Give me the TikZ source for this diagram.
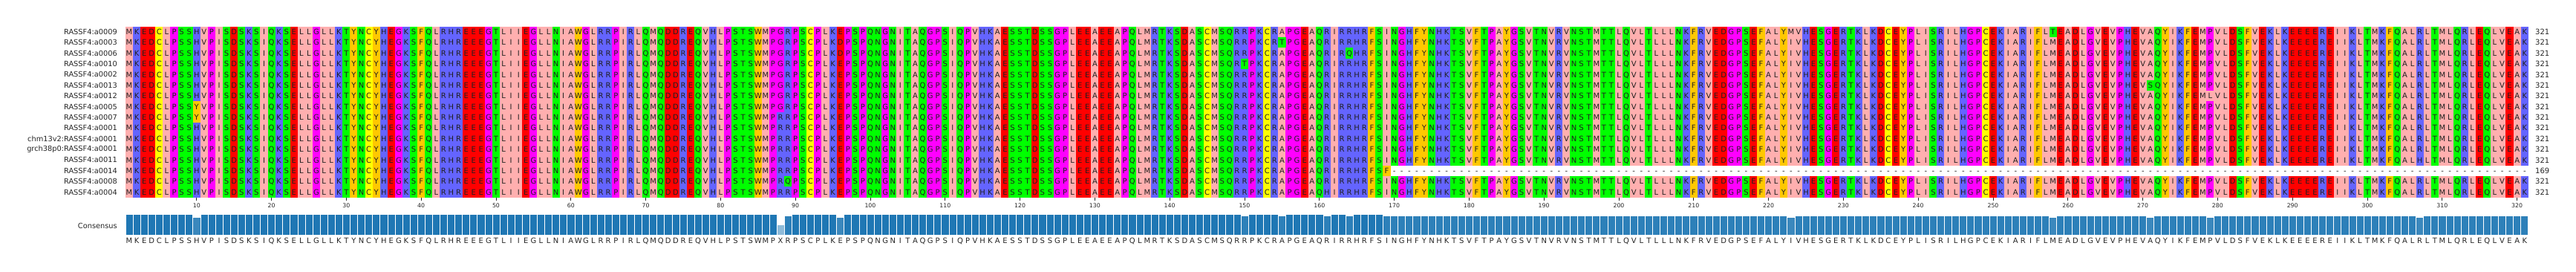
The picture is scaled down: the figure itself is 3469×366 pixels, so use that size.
\documentclass[tikz,border=0pt]{standalone}
\usepackage{fontspec}
\setmainfont{DejaVu Sans}
\definecolor{zpink}{HTML}{FFAFAF}
\definecolor{zorange}{HTML}{FFC800}
\definecolor{zblue}{HTML}{6464FF}
\definecolor{zred}{HTML}{FF0000}
\definecolor{zgreen}{HTML}{00FF00}
\definecolor{zmag}{HTML}{FF00FF}
\definecolor{zyel}{HTML}{FFFF00}
\colorlet{zA}{zpink}\colorlet{zI}{zpink}\colorlet{zL}{zpink}\colorlet{zM}{zpink}\colorlet{zV}{zpink}
\colorlet{zF}{zorange}\colorlet{zW}{zorange}\colorlet{zY}{zorange}
\colorlet{zH}{zblue}\colorlet{zK}{zblue}\colorlet{zR}{zblue}
\colorlet{zD}{zred}\colorlet{zE}{zred}
\colorlet{zN}{zgreen}\colorlet{zQ}{zgreen}\colorlet{zS}{zgreen}\colorlet{zT}{zgreen}
\colorlet{zG}{zmag}\colorlet{zP}{zmag}
\colorlet{zC}{zyel}
\colorlet{zX}{white}
\definecolor{cbar}{HTML}{1F77B4}
\definecolor{txtc}{HTML}{262626}
\colorlet{resc}{black!88}

\newcount\rowno \newcount\colno
\def\seq{MKEDCLPSSH VPISDSKSIQ KSELLGLLKT YNCYHEGKSF QLRHREEEGT LIIEGLLNIA WGLRRPIRLQ MQDDREQVHL PSTSWMPXRP SCPLKEPSPQ NGNITAQGPS IQPVHKAESS TDSSGPLEEA EEAPQLMRTK SDASCMSQRR PKCRAPGEAQ RIRRHRFSIN GHFYNHKTSV FTPAYGSVTN VRVNSTMTTL QVLTLLLNKF RVEDGPSEFA LYIVHESGER TKLKDCEYPL ISRILHGPCE KIARIFLMEA DLGVEVPHEV AQYIKFEMPV LDSFVEKLKE EEEREIIKLT MKFQALRLTM LQRLEQLVEA K}
\def\setv#1#2#3{\expandafter\xdef\csname v#1-#2\endcsname{#3}}
\def\setp#1#2{\expandafter\gdef\csname p#1\endcsname{#2}}
% variants: row/column/residue
\def\varlist{1/223/M,1/258/T,2/96/D,2/155/T,3/96/D,3/164/Q,4/150/T,6/271/S,7/279/L,8/10/Y,9/10/Y,13/307/H,14/169/F,15/89/Q,16/161/H,1/88/G,2/88/G,3/88/G,4/88/G,5/88/G,6/88/G,7/88/G,8/88/G,9/88/R,10/88/R,11/88/R,12/88/R,13/88/R,14/88/R,15/88/R,16/88/R}
\foreach \vr/\vc/\vl in \varlist {\setv{\vr}{\vc}{\vl}}
\foreach \vc in {170,...,321}{\setv{14}{\vc}{-}}
% conservation (percent) overrides
\setp{10}{87.5}\setp{88}{50}\setp{89}{93.75}\setp{96}{87.5}
\setp{150}{93.75}\setp{155}{93.75}\setp{161}{93.75}\setp{164}{93.75}\setp{169}{93.75}
\setp{223}{87.5}\setp{258}{87.5}\setp{271}{87.5}\setp{279}{87.5}\setp{307}{87.5}

\tikzset{
  rowlab/.style={inner sep=0pt, anchor=east, text=txtc, font=\fontsize{9.8}{12}\selectfont},
  lenlab/.style={inner sep=0pt, anchor=west, text=txtc, font=\fontsize{10}{12}\selectfont},
  ticklab/.style={inner sep=0pt, anchor=center, text=txtc, font=\fontsize{7.8}{9}\selectfont},
  tickmark/.style={draw=txtc, line width=0.8pt},
  barbox/.style={draw=white, line width=0.6pt}
}

% letters of one row, as one box
\newcommand\letcell[1]{%
  \global\advance\colno by 1
  \ifcsname v\the\rowno-\the\colno\endcsname
    \edef\curres{\csname v\the\rowno-\the\colno\endcsname}%
  \else\def\curres{#1}\fi
  \hbox to 10.08pt{\hss\curres\hss}}
\newcommand\parselet[1]{\ifx#1\relax\else\letcell{#1}\expandafter\parselet\fi}
% plain letters (consensus)
\newcommand\conscell[1]{\hbox to 10.08pt{\hss#1\hss}}
\newcommand\parsecons[1]{\ifx#1\relax\else\conscell{#1}\expandafter\parsecons\fi}
% column background fills
\newcommand\colfill[1]{%
  \global\advance\colno by 1
  \pgfmathsetmacro\cxa{169+(\the\colno-1)*10.08}%
  \fill[fill=z#1] (\cxa,35.7) rectangle ++(10.22,230);}
\newcommand\parsefill[1]{\ifx#1\relax\else\colfill{#1}\expandafter\parsefill\fi}
% consensus bars
\newcommand\barcell[1]{%
  \global\advance\colno by 1
  \ifcsname p\the\colno\endcsname
    \edef\cpct{\csname p\the\colno\endcsname}%
  \else\ifnum\colno>169 \def\cpct{93.75}\else\def\cpct{100}\fi\fi
  \pgfmathsetmacro\cxa{169+(\the\colno-1)*10.08}%
  \pgfmathsetmacro\cbh{-28.4*\cpct/100}%
  \filldraw[barbox, fill=cbar!\cpct!white] (\cxa,316.7) rectangle ++(10.08,\cbh);}
\newcommand\parsebars[1]{\ifx#1\relax\else\barcell{#1}\expandafter\parsebars\fi}

\begin{document}
\begin{tikzpicture}[x=1pt,y=-1pt]
\useasboundingbox (0,0) rectangle (3469,366);
\fill[white] (0,0) rectangle (3469,366);
% column colours
\global\colno=0
\expandafter\parsefill\seq\relax
% variant cells
\foreach \vr/\vc/\vl in \varlist {
  \fill[fill=z\vl] ({169+(\vc-1)*10.08},{35.7+(\vr-1)*14.375}) rectangle ++(10.22,14.375);
}
% gap stretch of a0014
\fill[white] ({169+169*10.08},{35.7+13*14.375}) rectangle (3405,{35.7+14*14.375});
% residue letters, one box per row
\foreach \r in {1,...,16}{
  \pgfmathsetmacro\cyb{35.7+(\r-1)*14.375+7.19+3.65}
  \pgftext[left,base,at={\pgfpoint{169pt}{-\cyb pt}}]{\fontsize{10}{12}\selectfont\color{resc}%
    \global\rowno=\r\relax\global\colno=0\relax\expandafter\parselet\seq\relax}
}
% row labels
\foreach \n [count=\i] in {RASSF4:a0009,RASSF4:a0003,RASSF4:a0006,RASSF4:a0010,RASSF4:a0002,RASSF4:a0013,RASSF4:a0012,RASSF4:a0005,RASSF4:a0007,RASSF4:a0001,chm13v2:RASSF4:a0001,grch38p0:RASSF4:a0001,RASSF4:a0011,RASSF4:a0014,RASSF4:a0008,RASSF4:a0004}{
  \node[rowlab] (lab\i) at (158,{35.7+(\i-0.5)*14.375}) {\n};
}
% lengths
\foreach \l [count=\i] in {321,321,321,321,321,321,321,321,321,321,321,321,321,169,321,321}{
  \node[lenlab] (len\i) at (3414,{35.7+(\i-0.5)*14.375}) {\l};
}
% ruler
\foreach \k in {1,...,32}{
  \pgfmathsetmacro\tx{169+(10*\k-0.5)*10.08}
  \pgfmathtruncatemacro\tl{10*\k}
  \coordinate (ta\k) at (\tx,265.9);
  \coordinate (tb\k) at (\tx,270.3);
  \draw[tickmark] (ta\k) -- (tb\k);
  \node[ticklab] (tl\k) at (\tx,277) {\tl};
}
% consensus
\node[rowlab] (conslab) at (158,303.5) {Consensus};
\global\colno=0
\expandafter\parsebars\seq\relax
\pgftext[left,base,at={\pgfpoint{169pt}{-327pt}}]{\fontsize{10}{12}\selectfont\color{txtc}\expandafter\parsecons\seq\relax}
\end{tikzpicture}
\end{document}
